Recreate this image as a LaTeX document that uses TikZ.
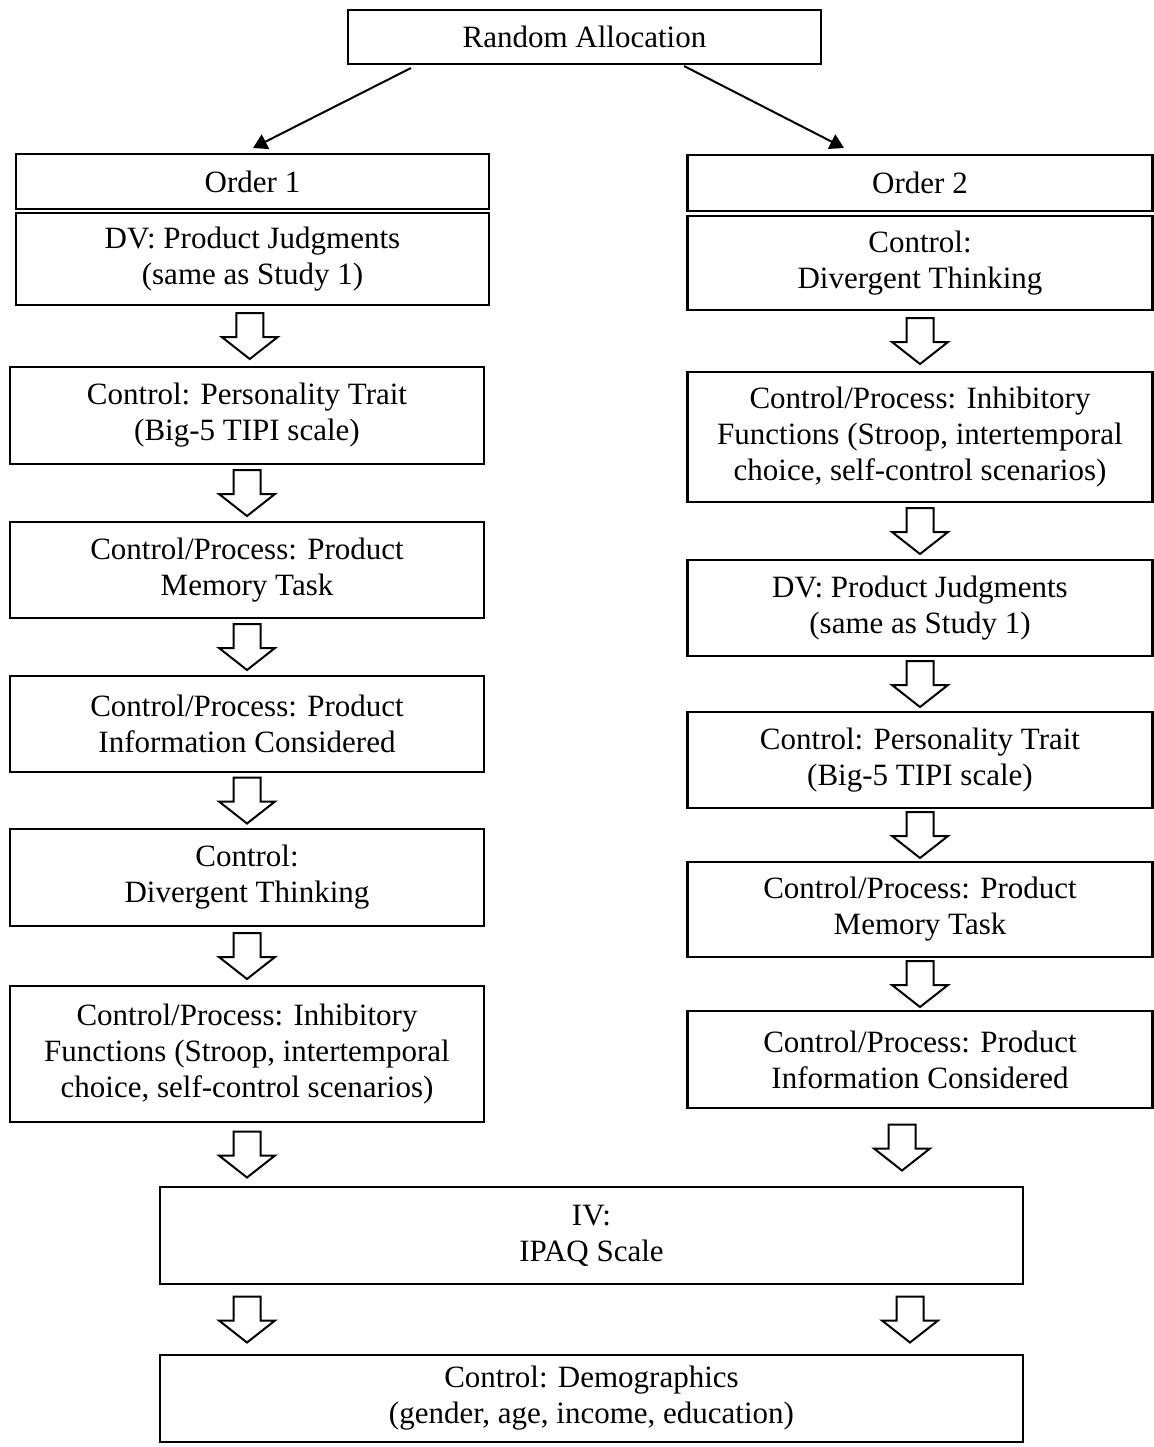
\documentclass[tikz,border=0pt]{standalone}
\usepackage{fontspec}
\setmainfont{Liberation Serif}
\usetikzlibrary{arrows.meta,calc}
\tikzset{
  box/.style={draw, line width=1.2pt, rectangle, align=center, inner sep=0pt},
  lbox/.style={box, minimum width=237pt},
  rbox/.style={box, minimum width=232.5pt},
  wbox/.style={box, minimum width=431.5pt},
  hollow/.pic={\draw[line width=1pt, line join=miter, fill=white] (-13.5,-23) -- (13.5,-23) -- (13.5,1) -- (28,1) -- (0,23) -- (-28,1) -- (-13.5,1) -- cycle;}
}
\begin{document}
\begin{tikzpicture}[x=0.5pt, y=-0.5pt, font=\fontsize{15.5}{18}\selectfont, >={Triangle[length=7pt,width=8pt]}]
  \useasboundingbox (0,0) rectangle (1154,1447);
  % top
  \node[box, minimum width=236.5pt, minimum height=27pt] (ra) at (584.5,37) {Random Allocation};
  \coordinate (ra1) at (411,68); \coordinate (o1in) at (253,148);
  \coordinate (ra2) at (684,66); \coordinate (o2in) at (844,148);
  \draw[->, line width=1pt] (ra1) -- (o1in);
  \draw[->, line width=1pt] (ra2) -- (o2in);
  % order 1
  \node[lbox, minimum width=236.5pt, minimum height=27.5pt] (o1) at (252.5,181.5) {Order 1};
  \node[lbox, minimum width=236.5pt, minimum height=46pt] (l1) at (252.5,259) {DV: Product Judgments\\(same as Study 1)};
  \node[lbox, minimum height=48.5pt] (l2) at (247,415.5) {Control: Personality Trait\\(Big-5 TIPI scale)};
  \node[lbox, minimum height=48pt] (l3) at (247,570) {Control/Process: Product\\Memory Task};
  \node[lbox, minimum height=48pt] (l4) at (247,724) {Control/Process: Product\\Information Considered};
  \node[lbox, minimum height=48.5pt] (l5) at (247,877.5) {Control:\\Divergent Thinking};
  \node[lbox, minimum height=68pt] (l6) at (247,1054) {Control/Process: Inhibitory\\Functions (Stroop, intertemporal\\choice, self-control scenarios)};
  % order 2
  \node[rbox, minimum height=28pt] (o2) at (920,183) {Order 2};
  \node[rbox, minimum height=47pt] (r1) at (920,263) {Control:\\Divergent Thinking};
  \node[rbox, minimum height=65pt] (r2) at (920,437) {Control/Process: Inhibitory\\Functions (Stroop, intertemporal\\choice, self-control scenarios)};
  \node[rbox, minimum height=48pt] (r3) at (920,608) {DV: Product Judgments\\(same as Study 1)};
  \node[rbox, minimum height=48pt] (r4) at (920,760) {Control: Personality Trait\\(Big-5 TIPI scale)};
  \node[rbox, minimum height=47.5pt] (r5) at (920,909.5) {Control/Process: Product\\Memory Task};
  \node[rbox, minimum height=48.5pt] (r6) at (920,1059.5) {Control/Process: Product\\Information Considered};
  % bottom
  \node[wbox, minimum height=48.5pt] (iv) at (591.5,1235.5) {IV:\\IPAQ Scale};
  \node[wbox, minimum height=43.5pt] (dem) at (591.5,1398.5) {Control: Demographics\\(gender, age, income, education)};
  % block arrows
  \foreach \a/\b in {l1/l2,l2/l3,l3/l4,l4/l5,l5/l6,r1/r2,r2/r3,r3/r4,r4/r5,r5/r6}
    \pic at ($(\a.south)!.5!(\b.north)$) {hollow};
  \pic at ($(l6.south)!.5!(l6.south |- iv.north)$) {hollow};
  \pic at ($(r6.south)!.5!(r6.south |- iv.north)+(-18,0)$) {hollow};
  \pic at ($(iv.south -| l6.south)!.5!(dem.north -| l6.south)$) {hollow};
  \pic at ($(iv.south -| r6.south)!.5!(dem.north -| r6.south)+(-10,0)$) {hollow};
\end{tikzpicture}
\end{document}
